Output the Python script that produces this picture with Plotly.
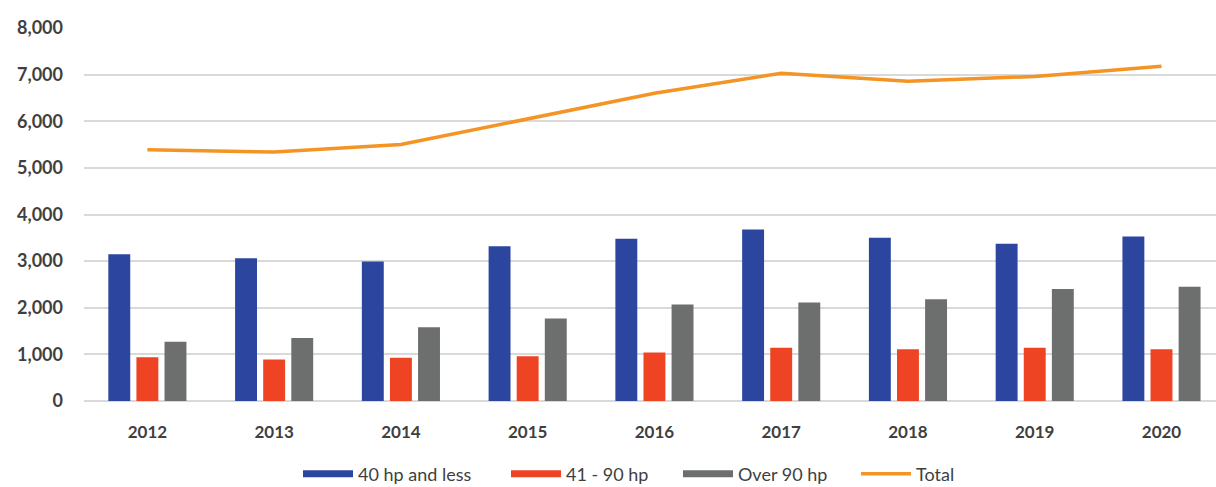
import plotly.graph_objects as go

years = ["2012", "2013", "2014", "2015", "2016", "2017", "2018", "2019", "2020"]
hp_40_less = [3150, 3060, 2990, 3320, 3480, 3680, 3500, 3370, 3530]
hp_41_90 = [940, 890, 930, 960, 1040, 1140, 1110, 1140, 1110]
hp_over_90 = [1270, 1350, 1580, 1770, 2070, 2110, 2180, 2400, 2450]
total = [5390, 5340, 5500, 6050, 6600, 7030, 6860, 6960, 7180]
y_ticks = [0, 1000, 2000, 3000, 4000, 5000, 6000, 7000, 8000]

BLUE = "#2c469f"
RED = "#ee4424"
GRAY = "#6d6e6e"
ORANGE = "#f39424"
FONT = "Lato"
TXT = "#3f3f3f"

W, H = 1216, 487
ML, MR, MT, MB = 84, 0, 28, 86

fig = go.Figure()
series = [("40 hp and less", hp_40_less, BLUE), ("41 - 90 hp", hp_41_90, RED), ("Over 90 hp", hp_over_90, GRAY)]
for name, vals, col in series:
    fig.add_trace(go.Bar(x=years, y=vals, name=name, marker=dict(color=col, line=dict(width=0)),
                         showlegend=False, legendgroup=name))
fig.add_trace(go.Scatter(x=years, y=total, name="Total", mode="lines",
                         line=dict(color=ORANGE, width=3.5), showlegend=False, legendgroup="Total"))

# legend entries (wide rectangular keys), each in its own legend placed where the reference has it
key_starts = [298, 506, 678, 856]
legend_names = ["legend", "legend2", "legend3", "legend4"]
entries = [(n, c, 7) for n, _, c in series] + [("Total", ORANGE, 3.5)]
legend_layout = {}
for (name, col, lw), ln, ks in zip(entries, legend_names, key_starts):
    fig.add_trace(go.Scatter(x=[None], y=[None], mode="lines", name=name, legendgroup=name,
                             legend=ln, line=dict(color=col, width=lw)))
    legend_layout[ln] = dict(
        x=(ks - ML) / (W - ML - MR), xanchor="left", y=-(474 - (H - MB)) / (H - MT - MB), yanchor="middle",
        orientation="h", font=dict(family=FONT, size=18, color=TXT), itemwidth=50,
        bgcolor="rgba(0,0,0,0)", borderwidth=0)

fig.update_layout(
    width=W, height=H,
    margin=dict(l=ML, r=MR, t=MT, b=MB, autoexpand=False),
    paper_bgcolor="white", plot_bgcolor="white",
    barmode="group", bargap=0.335, bargroupgap=0.22,
    font=dict(family=FONT, size=15, color=TXT),
    xaxis=dict(range=[-0.5, 8.43], showgrid=False, ticks="", showline=False, zeroline=False,
               tickfont=dict(family=FONT, size=17, color=TXT, weight="bold"), ticklabelstandoff=19),
    yaxis=dict(range=[0, 8000], tickvals=y_ticks, tickformat=",", showgrid=True,
               gridcolor="#d9d9d9", gridwidth=1.5, zeroline=True, zerolinecolor="#d9d9d9",
               zerolinewidth=1.5, showline=False, ticks="",
               tickfont=dict(family=FONT, size=18, color=TXT, weight="bold"), ticklabelstandoff=20),
    **legend_layout,
)

fig.write_html("out.html", config={"displayModeBar": False},
               post_script="document.body.style.margin='0';")
